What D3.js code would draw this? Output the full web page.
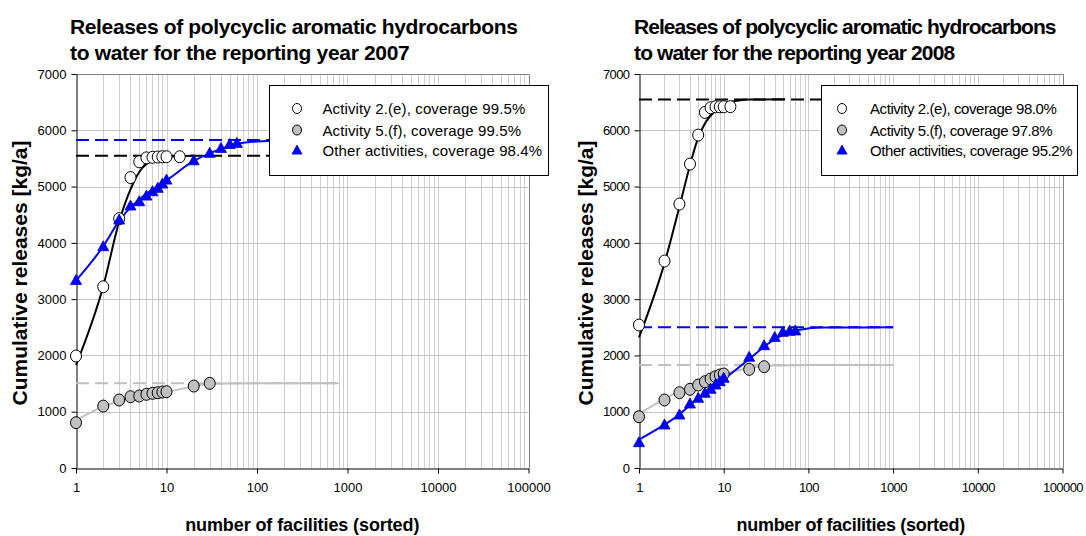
<!DOCTYPE html>
<html>
<head>
<meta charset="utf-8">
<script src="https://cdn.jsdelivr.net/npm/d3@7"></script>
<style>
  html, body { margin: 0; padding: 0; background: #fff; }
  svg { display: block; font-family: "Liberation Sans", Arial, sans-serif; }
</style>
</head>
<body>
<svg id="chart" width="1086" height="536"></svg>
<script>
// ---- data -------------------------------------------------------------
const yTicks = [0, 1000, 2000, 3000, 4000, 5000, 6000, 7000];
const xTickValues = [1, 10, 100, 1000, 10000, 100000];
const xTickLabels = ["1", "10", "100", "1000", "10000", "100000"];
const seriesNames = ["Activity 2.(e)", "Activity 5.(f)", "Other activities"];
const coverage2007 = ["99.5%", "99.5%", "98.4%"];
const coverage2008 = ["98.0%", "97.8%", "95.2%"];

// cumulative releases [kg/a] by facility rank, 2007
const act2e2007 = [[1,1990],[2,3220],[3,4430],[4,5160],[5,5440],[6,5510],[7,5520],[8,5525],[9,5530],[10,5530],[14,5530]];
const act5f2007 = [[1,805],[2,1100],[3,1208],[4,1266],[5,1279],[6,1309],[7,1327],[8,1337],[9,1350],[10,1355],[20,1456],[30,1504]];
const other2007 = [[1,3330],[2,3931],[3,4405],[4,4654],[5,4730],[6,4831],[7,4908],[8,4968],[9,5044],[10,5115],[20,5458],[30,5590],[40,5678],[50,5748],[60,5767]];

// fitted curves and their plateaus, 2007
const fit2e2007 = [[1,1830],[2,3230],[3,4380],[4,4950],[5,5260],[6,5400],[8,5495],[10,5525],[14,5542],[20,5547]];
const fit5f2007 = [[1,850],[2,1090],[3,1190],[5,1270],[10,1350],[20,1450],[30,1495],[50,1502],[100,1504],[800,1504]];
const fitOther2007 = [[1,3330],[2,3940],[3,4390],[4,4630],[5,4770],[6,4870],[8,5010],[10,5110],[20,5455],[30,5590],[40,5670],[60,5755],[100,5800],[200,5818],[800,5826]];
const plateau2007 = [5547, 1504, 5826];

// cumulative releases [kg/a] by facility rank, 2008
const act2e2008 = [[1,2540],[2,3677],[3,4689],[4,5400],[5,5915],[6,6318],[7,6400],[8,6418],[9,6418],[10,6418],[12,6420]];
const act5f2008 = [[1,911],[2,1208],[3,1338],[4,1398],[5,1474],[6,1533],[7,1581],[8,1622],[9,1652],[10,1670],[20,1753],[30,1800]];
const other2008 = [[1,450],[2,764],[3,941],[4,1137],[5,1238],[6,1327],[7,1398],[8,1474],[9,1533],[10,1593],[20,1966],[30,2172],[40,2320],[50,2410],[60,2430],[70,2435]];

// fitted curves and their plateaus, 2008
const fit2e2008 = [[1,2320],[2,3640],[3,4640],[4,5380],[5,5870],[6,6120],[8,6350],[10,6460],[15,6530],[20,6545],[53,6550]];
const fit5f2008 = [[1,960],[2,1230],[3,1360],[5,1500],[10,1660],[20,1775],[30,1810],[50,1822],[100,1828],[1000,1829]];
const fitOther2008 = [[1,505],[2,770],[3,950],[4,1120],[5,1240],[10,1575],[20,1935],[30,2155],[40,2290],[60,2410],[80,2455],[140,2495],[1000,2499]];
const plateau2008 = [6549, 1829, 2499];

// ---- drawing ----------------------------------------------------------
const svg = d3.select("#chart");
const FONT = '"Liberation Sans", Arial, sans-serif';

const styles = [
  { line: "#000000", marker: "circle", fill: "#ffffff", stroke: "#000000" },
  { line: "#c0c0c0", marker: "circle", fill: "#c0c0c0", stroke: "#000000" },
  { line: "#0000ff", marker: "triangle", fill: "#0000ff", stroke: "#0000c8" }
];

function drawMarker(g, type, cx, cy, s) {
  if (type === "circle") {
    g.append("ellipse").attr("cx", cx).attr("cy", cy).attr("rx", s.rx).attr("ry", s.ry)
      .attr("fill", s.fill).attr("stroke", s.stroke).attr("stroke-width", 1);
  } else {
    const w = s.w, h = s.h;
    g.append("path")
      .attr("d", `M${cx},${cy - h * 0.6}L${cx + w / 2},${cy + h * 0.4}L${cx - w / 2},${cy + h * 0.4}Z`)
      .attr("fill", s.fill).attr("stroke", s.stroke).attr("stroke-width", 0.8);
  }
}

function drawPanel(p) {
  const x = d3.scaleLog().domain([1, 100000]).range([p.x0, p.x1]);
  const y = d3.scaleLinear().domain([0, 7000]).range([468, 74]);
  const g = svg.append("g");

  // grid: vertical at every 1..9 × decade, horizontal every 1000
  const minor = [];
  for (let e = 0; e < 5; e++) for (let m = 1; m <= 9; m++) minor.push(m * Math.pow(10, e));
  g.append("g").selectAll("line").data(minor.filter(v => v > 1)).join("line")
    .attr("x1", d => Math.round(x(d)) + 0.5).attr("x2", d => Math.round(x(d)) + 0.5)
    .attr("y1", y(7000)).attr("y2", y(0))
    .attr("stroke", "#cfcfcf").attr("stroke-width", 1);
  g.append("g").selectAll("line").data(yTicks.filter(v => v > 0 && v < 7000)).join("line")
    .attr("x1", p.x0).attr("x2", p.x1)
    .attr("y1", d => Math.round(y(d)) + 0.5).attr("y2", d => Math.round(y(d)) + 0.5)
    .attr("stroke", "#c4c4c4").attr("stroke-width", 1);

  // frame top / right
  g.append("path")
    .attr("d", `M${p.x0},${Math.round(y(7000)) + 0.5}H${Math.round(p.x1) + 0.5}V${y(0)}`)
    .attr("fill", "none").attr("stroke", "#808080").attr("stroke-width", 1);

  // axes
  const yAxis = d3.axisLeft(y).tickValues(yTicks).tickSize(5).tickSizeOuter(0).tickPadding(5)
    .tickFormat(d3.format("d"));
  const ya = g.append("g").attr("transform", `translate(${Math.round(p.x0) + 0.5},0)`).call(yAxis);
  const xAxis = d3.axisBottom(x).tickValues(xTickValues).tickSize(5).tickSizeOuter(0).tickPadding(9)
    .tickFormat((d, i) => xTickLabels[i]);
  const xa = g.append("g").attr("transform", `translate(0,${Math.round(y(0)) + 0.5})`).call(xAxis);
  [ya, xa].forEach(a => {
    a.select(".domain").attr("stroke", "#000");
    a.selectAll(".tick line").attr("stroke", "#000");
    a.selectAll("text").attr("font-family", FONT).attr("font-size", 13).attr("fill", "#000")
      .attr("letter-spacing", p.tickSpacing);
  });

  // series: plateau (dashed), fit (solid), markers
  p.series.forEach((s, i) => {
    const st = styles[i];
    g.append("path")
      .attr("d", d3.line().x(d => x(d[0])).y(d => y(d[1]))([[1, p.plateau[i]], [p.dashEnd, p.plateau[i]]]))
      .attr("fill", "none").attr("stroke", st.line).attr("stroke-width", 2)
      .attr("stroke-dasharray", "13,6");
    g.append("path")
      .attr("d", d3.line().x(d => x(d[0])).y(d => y(d[1])).curve(d3.curveMonotoneX)(s.fit))
      .attr("fill", "none").attr("stroke", st.line).attr("stroke-width", 2);
  });
  p.series.forEach((s, i) => {
    const st = styles[i];
    const mg = g.append("g");
    s.points.forEach(d => drawMarker(mg, st.marker, x(d[0]), y(d[1]),
      { rx: 5.5, ry: 6, w: 11, h: 10, fill: st.fill, stroke: st.stroke }));
  });

  // legend
  const lg = g.append("g");
  lg.append("rect").attr("x", p.leg.x + 0.5).attr("y", 85.5).attr("width", p.leg.w).attr("height", 90)
    .attr("fill", "#fff").attr("stroke", "#000").attr("stroke-width", 1);
  const rows = [108.5, 130, 150.5];
  seriesNames.forEach((name, i) => {
    const st = styles[i];
    drawMarker(lg, st.marker, p.leg.sx, rows[i], { rx: 4.5, ry: 5, w: 10, h: 9, fill: st.fill, stroke: st.stroke });
    lg.append("text").attr("x", p.leg.tx).attr("y", rows[i] + 5.5)
      .attr("font-family", FONT).attr("font-size", 15).attr("fill", "#000")
      .attr("letter-spacing", p.leg.spacing)
      .text(`${name}, coverage ${p.coverage[i]}`);
  });

  // titles
  const t = g.append("text").attr("font-family", FONT).attr("font-weight", "bold")
    .attr("font-size", 21).attr("fill", "#000");
  t.append("tspan").attr("x", p.tx).attr("y", 34).attr("letter-spacing", p.tspacing[0])
    .text("Releases of polycyclic aromatic hydrocarbons");
  t.append("tspan").attr("x", p.tx).attr("y", 60).attr("letter-spacing", p.tspacing[1])
    .text(`to water for the reporting year ${p.year}`);

  g.append("text").attr("transform", `translate(${p.yLabelX},${(y(0) + y(7000)) / 2 + 2}) rotate(-90)`)
    .attr("text-anchor", "middle").attr("font-family", FONT).attr("font-weight", "bold")
    .attr("font-size", 21).attr("fill", "#000").attr("letter-spacing", 0)
    .text("Cumulative releases [kg/a]");

  g.append("text").attr("x", (p.x0 + p.x1) / 2).attr("y", 531)
    .attr("text-anchor", "middle").attr("font-family", FONT).attr("font-weight", "bold")
    .attr("font-size", 18).attr("fill", "#000").attr("letter-spacing", p.xtSpacing)
    .text("number of facilities (sorted)");
}

drawPanel({
  year: "2007", x0: 76, x1: 528.5, dashEnd: 800, plateau: plateau2007, coverage: coverage2007,
  tickSpacing: 0,
  series: [
    { points: act2e2007, fit: fit2e2007 },
    { points: act5f2007, fit: fit5f2007 },
    { points: other2007, fit: fitOther2007 }
  ],
  leg: { x: 269, w: 279, sx: 297, tx: 322.5, spacing: 0.12 },
  tx: 70, tspacing: [-0.36, -0.33], yLabelX: 27, xtSpacing: -0.1
});

drawPanel({
  year: "2008", x0: 639, x1: 1062.5, dashEnd: 1000, plateau: plateau2008, coverage: coverage2008,
  tickSpacing: -0.6,
  series: [
    { points: act2e2008, fit: fit2e2008 },
    { points: act5f2008, fit: fit5f2008 },
    { points: other2008, fit: fitOther2008 }
  ],
  leg: { x: 821, w: 256, sx: 842, tx: 870, spacing: -0.43 },
  tx: 634, tspacing: [-0.95, -0.86], yLabelX: 593, xtSpacing: -0.3
});
</script>
</body>
</html>
